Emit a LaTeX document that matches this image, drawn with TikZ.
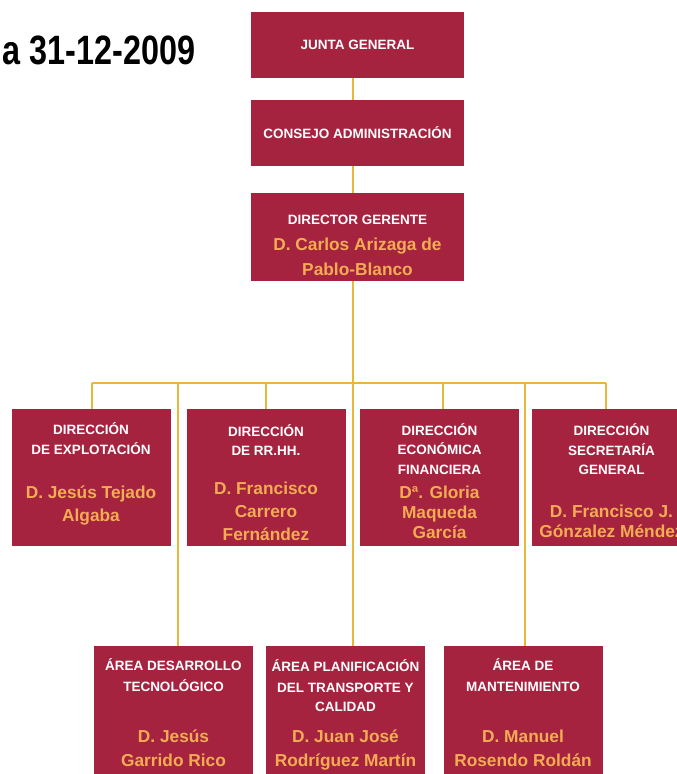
\documentclass[tikz,border=0pt]{standalone}
\usepackage{fontspec}
\setmainfont{Liberation Sans}
\definecolor{boxred}{RGB}{166,35,63}
\definecolor{gold}{RGB}{232,182,56}
\definecolor{nameor}{RGB}{244,172,84}
\newcommand{\hd}{\fontsize{13.5}{19.5}\selectfont\bfseries\color{white}}
\newcommand{\nm}{\fontsize{17.3}{23}\selectfont\bfseries\color{nameor}}
\tikzset{
  orgbox/.style={rectangle, fill=boxred, inner sep=0pt, align=center,
    minimum width=#1, font=\hd},
  orgbox/.default=159pt,
  conn/.style={draw=gold, line width=2.8pt}
}
\begin{document}
\begin{tikzpicture}[x=1pt,y=1pt]
\useasboundingbox (0,0) rectangle (677,-774);
\clip (0,0) rectangle (677,-774);
% title
\node[font=\fontsize{41}{41}\selectfont\bfseries, inner sep=0pt] (title) at (99,-50) {\scalebox{0.79}[1]{a 31-12-2009}};
% top boxes
\node[orgbox=213pt, minimum height=66pt] (jg) at (357.5,-45) {JUNTA GENERAL};
\node[orgbox=213pt, minimum height=66pt] (ca) at (357.5,-133) {CONSEJO ADMINISTRACIÓN};
\node[orgbox=213pt, minimum height=88pt] (dg) at (357.5,-237) {\rule{0pt}{26pt}DIRECTOR GERENTE\\[7pt]\nm D. Carlos Arizaga de\\[5pt]\nm Pablo-Blanco};
% middle boxes
\node[orgbox, minimum height=137pt] (m1) at (91,-477.5) {DIRECCIÓN\\DE EXPLOTACIÓN\\[25pt]\nm D. Jesús Tejado\\[3.5pt]\nm Algaba\rule[-10pt]{0pt}{10pt}};
\node[orgbox, minimum height=137pt] (m2) at (266,-477.5) {\rule{0pt}{21.5pt}DIRECCIÓN\\DE RR.HH.\\[19pt]\nm D. Francisco\\[3.5pt]\nm Carrero\\[3.5pt]\nm Fernández};
\node[orgbox, minimum height=137pt] (m3) at (439.5,-477.5) {\rule{0pt}{19.5pt}DIRECCIÓN\\ECONÓMICA\\FINANCIERA\\[5pt]\nm Dª. Gloria\\[0.5pt]\nm Maqueda\\[0.5pt]\nm García};
\node[orgbox, minimum height=137pt] (m4) at (611.5,-477.5) {\rule{0pt}{18.5pt}DIRECCIÓN\\SECRETARÍA\\GENERAL\\[23pt]\nm D. Francisco J.\\[0.5pt]\nm Gónzalez Méndez};
% bottom boxes
\node[orgbox, minimum height=137pt, anchor=north] (b1) at (173.5,-646) {ÁREA DESARROLLO\\[1.5pt]TECNOLÓGICO\\[31pt]\nm D. Jesús\\[4.5pt]\nm Garrido Rico\rule[-4pt]{0pt}{4pt}};
\node[orgbox, minimum height=137pt, anchor=north] (b2) at (345.5,-646) {ÁREA PLANIFICACIÓN\\[1.5pt]DEL TRANSPORTE Y\\CALIDAD\\[11pt]\nm D. Juan José\\[4.5pt]\nm Rodríguez Martín};
\node[orgbox, minimum height=137pt, anchor=north] (b3) at (523,-646) {ÁREA DE\\[1.5pt]MANTENIMIENTO\\[31pt]\nm D. Manuel\\[4.5pt]\nm Rosendo Roldán\rule[-4pt]{0pt}{4pt}};
% connectors
\coordinate (bus) at (353,-383);
\coordinate (busL) at (92,-383);
\coordinate (busR) at (606,-383);
\coordinate (d2) at (266,-383);
\coordinate (d3) at (443,-383);
\coordinate (j1) at (178,-383);
\coordinate (j3) at (525,-383);
\draw[conn] (jg.south -| bus) -- (ca.north -| bus);
\draw[conn] (ca.south -| bus) -- (dg.north -| bus);
\draw[conn] (dg.south -| bus) -- (bus);
\draw[conn] (busL) -- (busR);
\draw[conn] (busL) -- (busL |- m1.north);
\draw[conn] (d2) -- (d2 |- m2.north);
\draw[conn] (d3) -- (d3 |- m3.north);
\draw[conn] (busR) -- (busR |- m4.north);
\draw[conn] (j1) -- (j1 |- b1.north);
\draw[conn] (bus) -- (bus |- b2.north);
\draw[conn] (j3) -- (j3 |- b3.north);
\end{tikzpicture}
\end{document}
